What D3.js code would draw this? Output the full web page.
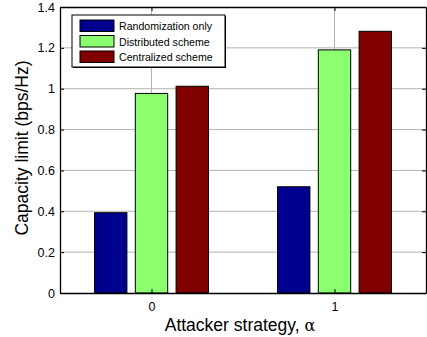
<!DOCTYPE html>
<html><head><meta charset="utf-8">
<script src="https://cdn.jsdelivr.net/npm/d3@7"></script>
<style>body{margin:0;background:#fff}svg{display:block}text{font-family:"Liberation Sans",Arial,sans-serif}</style>
</head><body>
<script>
const categories = ["0", "1"];
const seriesNames = ["Randomization only", "Distributed scheme", "Centralized scheme"];
const randomizationOnly = [0.393, 0.52];
const distributedScheme = [0.977, 1.19];
const centralizedScheme = [1.012, 1.281];
const yTicks = [0, 0.2, 0.4, 0.6, 0.8, 1, 1.2, 1.4];
const colors = ["#00008F", "#8CFF6E", "#800000"];
const series = [randomizationOnly, distributedScheme, centralizedScheme];

const W = 427, H = 337;
const m = {l: 60, r: 1, t: 7, b: 44};
const svg = d3.select("body").append("svg").attr("width", W).attr("height", H);
const x = d3.scaleLinear().domain([-0.5, 1.5]).range([m.l, W - m.r]);
const y = d3.scaleLinear().domain([0, 1.4]).range([H - m.b, m.t]);
const groupOffsets = d3.scaleBand().domain(seriesNames).range([-0.3113, 0.3113]).paddingInner(0.206);

// grid
const g = svg.append("g");
g.selectAll(".gy").data(yTicks.slice(1, -1)).join("line")
  .attr("x1", m.l).attr("x2", W - m.r).attr("y1", d => y(d)).attr("y2", d => y(d))
  .attr("stroke", "#b4b4b4").attr("stroke-width", 1);
g.selectAll(".gx").data(categories).join("line")
  .attr("x1", d => x(+d)).attr("x2", d => x(+d)).attr("y1", m.t).attr("y2", H - m.b)
  .attr("stroke", "#b4b4b4").attr("stroke-width", 1);

// bars
series.forEach((vals, si) => {
  svg.append("g").selectAll("rect").data(vals).join("rect")
    .attr("x", (d, i) => x(i + groupOffsets(seriesNames[si])))
    .attr("width", x(groupOffsets.bandwidth()) - x(0))
    .attr("y", d => y(d)).attr("height", d => y(0) - y(d))
    .attr("fill", colors[si]).attr("stroke", "#000").attr("stroke-width", 1);
});

// axes
const yAxis = d3.axisLeft(y).tickValues(yTicks).tickFormat(d => d3.format("~g")(d)).tickSizeInner(-4).tickSizeOuter(0).tickPadding(5);
const ya = svg.append("g").attr("transform", `translate(${m.l},0)`).call(yAxis);
const yr = svg.append("g").attr("transform", `translate(${W - m.r},0)`).call(d3.axisRight(y).tickValues(yTicks).tickSizeInner(-4).tickSizeOuter(0).tickFormat(""));
const xAxis = d3.axisBottom(x).tickValues(categories.map(Number)).tickFormat((d, i) => categories[i]).tickSizeInner(-4).tickSizeOuter(0).tickPadding(9);
const xa = svg.append("g").attr("transform", `translate(0,${H - m.b})`).call(xAxis);
const xt = svg.append("g").attr("transform", `translate(0,${m.t})`).call(d3.axisTop(x).tickValues(categories.map(Number)).tickSizeInner(-4).tickSizeOuter(0).tickFormat(""));
[ya, yr, xa, xt].forEach(a => {
  a.select(".domain").attr("stroke", "#000").attr("stroke-width", 1.3);
  a.selectAll(".tick line").attr("stroke", "#000");
  a.selectAll("text").attr("font-size", 12.5).attr("fill", "#000").attr("font-family", '"Liberation Sans",Arial,sans-serif');
});

// labels
svg.append("text").attr("transform", `translate(27.5,${(m.t + H - m.b) / 2 - 2}) rotate(-90)`)
  .attr("text-anchor", "middle").attr("font-size", 17.5).text("Capacity limit (bps/Hz)");
svg.append("text").attr("x", 240).attr("y", 331)
  .attr("text-anchor", "middle").attr("font-size", 17.5).text("Attacker strategy, ")
  .append("tspan").attr("font-family", "DejaVu Serif, serif").attr("font-size", 16).text("α");

// legend
const lg = svg.append("g").attr("transform", "translate(72,15)");
lg.append("rect").attr("x", 1).attr("y", 1).attr("width", 153).attr("height", 52).attr("fill", "#000");
lg.append("rect").attr("width", 153).attr("height", 52).attr("fill", "#fff").attr("stroke", "#000").attr("stroke-width", 1);
seriesNames.forEach((n, i) => {
  lg.append("rect").attr("x", 8).attr("y", 5 + i * 15.5).attr("width", 34).attr("height", 11.5)
    .attr("fill", colors[i]).attr("stroke", "#000").attr("stroke-width", 1);
  lg.append("text").attr("x", 47).attr("y", 15 + i * 15.5).attr("font-size", 10.6).text(n);
});
</script>
</body></html>
